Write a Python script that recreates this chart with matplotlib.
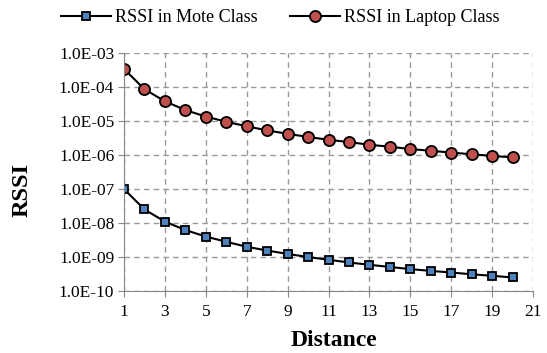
import numpy as np
import matplotlib
matplotlib.use("Agg")
import matplotlib.pyplot as plt
from matplotlib.ticker import FixedLocator, FuncFormatter, NullLocator

# data
distance = list(range(1, 21))
rssi_mote = [1.0e-7, 2.5e-8, 1.1e-8, 6.2e-9, 4.0e-9, 2.8e-9, 2.0e-9, 1.55e-9, 1.23e-9, 1.0e-9,
             8.3e-10, 6.9e-10, 5.9e-10, 5.1e-10, 4.4e-10, 3.9e-10, 3.5e-10, 3.1e-10, 2.8e-10, 2.5e-10]
rssi_laptop = [3.4e-4, 8.6e-5, 3.8e-5, 2.1e-5, 1.35e-5, 9.5e-6, 7.0e-6, 5.3e-6, 4.2e-6, 3.4e-6,
               2.8e-6, 2.4e-6, 2.0e-6, 1.75e-6, 1.5e-6, 1.33e-6, 1.18e-6, 1.05e-6, 9.4e-7, 8.5e-7]
x_ticks = list(range(1, 22, 2))
y_ticks = [1e-10, 1e-9, 1e-8, 1e-7, 1e-6, 1e-5, 1e-4, 1e-3]

plt.rcParams['font.family'] = ['Liberation Serif', 'DejaVu Serif']

fig = plt.figure(figsize=(5.47, 3.53), dpi=100)
ax = fig.add_axes([124 / 547, 1 - 291 / 353, (533 - 124) / 547, (291 - 53) / 353])

ax.plot(distance, rssi_mote, color='black', lw=1.5, marker='s', ms=5.8,
        mfc='#4F81BD', mec='black', mew=1.3, label='RSSI in Mote Class')
ax.plot(distance, rssi_laptop, color='black', lw=1.5, marker='o', ms=8,
        mfc='#C0504D', mec='black', mew=1.3, label='RSSI in Laptop Class')

ax.set_yscale('log')
ax.set_xlim(1, 21)
ax.set_ylim(1e-10, 1e-3)
ax.xaxis.set_major_locator(FixedLocator(x_ticks))
ax.yaxis.set_major_locator(FixedLocator(y_ticks))
ax.yaxis.set_minor_locator(NullLocator())
ax.yaxis.set_major_formatter(FuncFormatter(lambda v, p: '1.0E-%02d' % round(-np.log10(v))))

ax.grid(True, which='major', color='#999999', linestyle=(0, (4, 3)), lw=1)
for side in ['top', 'right']:
    ax.spines[side].set_visible(False)
for side in ['left', 'bottom']:
    ax.spines[side].set_color('#888888')
ax.tick_params(axis='both', which='major', direction='out', length=4, color='#888888',
               labelsize=12.5, colors='black')
ax.tick_params(axis='y', pad=3)
ax.tick_params(axis='x', pad=5)

ax.set_xlabel('Distance', fontsize=17, fontweight='bold')
ax.set_ylabel('RSSI', fontsize=17.5, fontweight='bold')
ax.xaxis.set_label_coords((334 - 124) / (533 - 124), -(341 - 291) / (291 - 53), transform=ax.transAxes)
ax.yaxis.set_label_coords(-(124 - 22) / (533 - 124), (291 - 190) / (291 - 53), transform=ax.transAxes)
ax.xaxis.label.set_va('center')
ax.yaxis.label.set_va('center')

fig.legend(loc='center', bbox_to_anchor=(280 / 547, 1 - 18 / 353), ncol=2, frameon=False,
           fontsize=13, handlelength=2.8, columnspacing=1.8, handletextpad=0.2)

fig.savefig('out.png', dpi=100)
